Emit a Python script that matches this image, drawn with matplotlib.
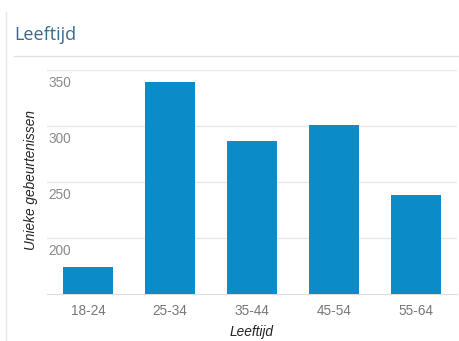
import matplotlib.pyplot as plt
from matplotlib.lines import Line2D

categories = ['18-24', '25-34', '35-44', '45-54', '55-64']
values = [174, 339, 287, 301, 238]
yticks = [200, 250, 300, 350]

plt.rcParams['font.family'] = ['Liberation Sans', 'DejaVu Sans']

fig = plt.figure(figsize=(4.59, 3.41), dpi=100)
ax = fig.add_axes([47/459, 47/341, 410/459, 224/341])

x = range(len(categories))
ax.bar(x, values, width=0.61, color='#0b8bc7', zorder=3)
ax.set_xlim(-0.5, 4.5)
ax.set_ylim(150, 350)

# grid lines with labels sitting just under them, inside the plot
for t in yticks:
    ax.axhline(t, color='#e8e8e8', lw=1, zorder=1)
    ax.annotate(str(t), xy=(0, t), xycoords=('axes fraction', 'data'),
                xytext=(1, -4), textcoords='offset points',
                ha='left', va='top', fontsize=9.8, color='#8a8a8a')

ax.set_yticks([])
ax.set_xticks(list(x))
ax.set_xticklabels(categories, fontsize=9.8, color='#777777')
ax.tick_params(axis='x', length=0, pad=7)
for s in ['top', 'right', 'left']:
    ax.spines[s].set_visible(False)
ax.spines['bottom'].set_color('#dddddd')

ax.set_xlabel('Leeftijd', fontsize=9.8, style='italic', color='#222222', labelpad=5)
fig.text(31/459, 1 - 180/341, 'Unieke gebeurtenissen', rotation=90, style='italic',
         fontsize=9.8, color='#222222', ha='center', va='center')

# panel header
fig.text(14/459, 1 - 35/341, 'Leeftijd', fontsize=13, color='#3b6b8c',
         family=['Open Sans', 'DejaVu Sans'], ha='left', va='center')
fig.add_artist(Line2D([14/459, 1], [1 - 56/341, 1 - 56/341], color='#e2e2e2', lw=1))
fig.add_artist(Line2D([6/459, 6/459], [0, 1 - 12/341], color='#e6e6e6', lw=1))

fig.savefig('out.png', dpi=100)
